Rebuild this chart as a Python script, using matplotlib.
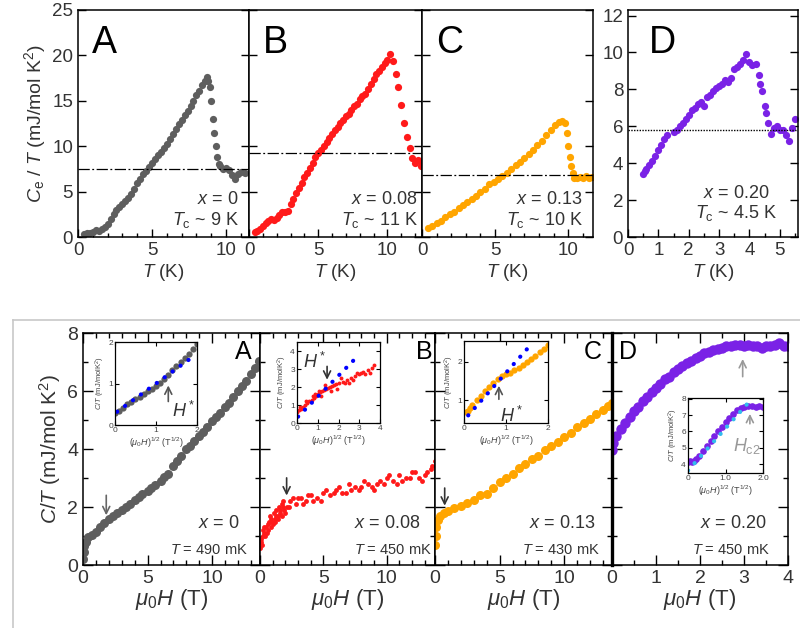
import matplotlib
matplotlib.use("Agg")
import matplotlib.pyplot as plt
from matplotlib.ticker import MultipleLocator, FixedLocator
from matplotlib.lines import Line2D

plt.rcParams['font.family'] = ['Liberation Sans', 'DejaVu Sans']
plt.rcParams['mathtext.fontset'] = 'custom'
plt.rcParams['mathtext.rm'] = 'Liberation Sans'
plt.rcParams['mathtext.it'] = 'Liberation Sans:italic'
plt.rcParams['text.color'] = '#333333'
plt.rcParams['axes.labelcolor'] = '#333333'

GRAY = '#5e5e5e'
RED = '#ff1a1a'
ORANGE = '#ffa500'
PURPLE = '#7a22e6'

# Data: zero-field specific heat, Ce/T vs T ======================================================
topA_T = [0.4, 0.6, 0.8, 1.0, 1.2, 1.4, 1.6, 1.8, 2.0, 2.2, 2.4, 2.6, 2.8, 3.0, 3.2, 3.4, 3.6,
          3.8, 4.0, 4.2, 4.4, 4.6, 4.8, 5.0, 5.2, 5.4, 5.6, 5.8, 6.0, 6.2, 6.4, 6.6, 6.8, 7.0,
          7.2, 7.4, 7.6, 7.8, 8.0, 8.2, 8.4, 8.6, 8.7, 8.8, 8.9, 9.0, 9.1, 9.2, 9.3, 9.4, 9.5,
          9.6, 9.8, 10.0, 10.2, 10.4, 10.6, 10.8, 11.0, 11.3]
topA_C = [0.3, 0.4, 0.4, 0.6, 0.8, 0.7, 0.9, 1.1, 1.4, 2.0, 2.5, 3.0, 3.3, 3.6, 4.0, 4.3, 4.7,
          5.3, 6.0, 6.4, 6.9, 7.3, 7.7, 8.1, 8.6, 9.0, 9.4, 9.8, 10.2, 10.8, 11.3, 11.9, 12.4,
          12.9, 13.4, 13.9, 14.4, 15.0, 15.6, 16.1, 16.7, 17.2, 17.6, 17.2, 16.5, 15.0, 13.0,
          11.5, 10.0, 8.8, 8.0, 7.8, 7.5, 7.6, 7.4, 6.8, 6.4, 6.9, 7.2, 7.0]
topB_T = [0.4, 0.6, 0.8, 1.0, 1.2, 1.4, 1.6, 1.8, 2.0, 2.2, 2.4, 2.6, 2.8, 3.0, 3.2, 3.4, 3.6,
          3.8, 4.0, 4.2, 4.4, 4.6, 4.8, 5.0, 5.2, 5.4, 5.6, 5.8, 6.0, 6.2, 6.4, 6.6, 6.8, 7.0,
          7.2, 7.4, 7.6, 7.8, 8.0, 8.2, 8.4, 8.6, 8.8, 9.0, 9.2, 9.4, 9.6, 9.8, 10.0, 10.2,
          10.4, 10.6, 10.8, 11.0, 11.2, 11.4, 11.6, 11.8, 12.0, 12.2, 12.4, 12.5]
topB_C = [0.5, 0.7, 0.9, 1.2, 1.5, 1.8, 2.0, 1.9, 2.1, 2.4, 2.7, 2.8, 2.9, 3.6, 4.2, 4.8, 5.4,
          6.0, 6.6, 7.0, 7.6, 8.2, 8.8, 9.3, 9.6, 10.0, 10.5, 10.9, 11.3, 11.8, 12.1, 12.5, 12.9,
          13.3, 13.6, 14.0, 14.4, 14.7, 15.2, 15.5, 15.8, 16.3, 16.8, 17.4, 17.9, 18.3, 18.7,
          19.2, 19.5, 20.2, 19.4, 18.0, 16.5, 14.5, 12.5, 11.0, 9.8, 8.7, 8.2, 8.5, 7.8, 8.0]
topC_T = [0.4, 0.7, 1.0, 1.3, 1.6, 1.9, 2.2, 2.5, 2.8, 3.1, 3.4, 3.7, 4.0, 4.3, 4.6, 4.9, 5.2,
          5.5, 5.8, 6.1, 6.4, 6.7, 7.0, 7.3, 7.6, 7.9, 8.2, 8.5, 8.8, 9.1, 9.4, 9.6, 9.8, 9.9,
          10.0, 10.1, 10.2, 10.3, 10.4, 10.6, 10.8, 11.0, 11.2, 11.4, 11.6]
topC_C = [1.0, 1.2, 1.5, 1.8, 2.2, 2.5, 2.8, 3.2, 3.5, 3.8, 4.2, 4.5, 5.0, 5.3, 5.8, 6.1, 6.4,
          6.7, 7.1, 7.5, 7.9, 8.3, 8.7, 9.1, 9.6, 10.1, 10.6, 11.2, 11.8, 12.3, 12.7, 12.8,
          12.6, 11.5, 10.0, 8.8, 7.8, 7.0, 6.5, 6.5, 6.6, 6.5, 6.7, 6.5, 6.6]
topD_T = [0.5, 0.55, 0.6, 0.7, 0.8, 0.9, 1.0, 1.1, 1.2, 1.3, 1.5, 1.6, 1.7, 1.8, 1.9, 2.0, 2.1,
          2.2, 2.3, 2.4, 2.5, 2.6, 2.7, 2.8, 2.9, 3.0, 3.1, 3.2, 3.3, 3.4, 3.5, 3.6, 3.7, 3.8,
          3.9, 4.0, 4.1, 4.2, 4.3, 4.35, 4.4, 4.5, 4.55, 4.6, 4.7, 4.8, 4.9, 5.0, 5.1, 5.2,
          5.3, 5.4, 5.5]
topD_C = [3.4, 3.6, 3.7, 3.9, 4.1, 4.4, 4.7, 5.0, 5.3, 5.5, 5.7, 5.8, 6.0, 6.2, 6.4, 6.6, 6.9,
          7.0, 7.2, 7.3, 7.1, 7.6, 7.7, 7.9, 8.1, 8.2, 8.3, 8.5, 8.4, 8.6, 9.1, 9.2, 9.4, 9.6,
          9.9, 9.5, 9.3, 9.4, 8.8, 8.3, 7.9, 7.1, 6.7, 6.2, 5.6, 5.9, 6.0, 5.8, 5.8, 5.5, 5.2,
          5.9, 6.4]
top_normal = [7.5, 9.3, 6.8, 5.8]   # normal-state Cn/T levels

# Data: field dependence C/T vs mu0H ==============================================================
botA_H = [0.0, 0.05, 0.1, 0.2, 0.4, 0.7, 1.0, 1.3, 1.6, 2.0, 2.3, 2.6, 3.0, 3.3, 3.6, 4.0,
          4.3, 4.6, 5.0, 5.3, 5.6, 6.0, 6.3, 6.6, 7.0, 7.3, 7.6, 8.0, 8.3, 8.6, 9.0, 9.3, 9.6,
          10.0, 10.3, 10.6, 11.0, 11.3, 11.6, 12.0, 12.3, 12.6, 13.0, 13.3, 13.6]
botA_C = [0.2, 0.45, 0.65, 0.8, 0.95, 1.05, 1.15, 1.3, 1.45, 1.6, 1.7, 1.78, 1.9, 2.0, 2.1,
          2.25, 2.35, 2.45, 2.55, 2.65, 2.75, 2.9, 3.02, 3.15, 3.4, 3.58, 3.76, 4.0, 4.12, 4.27,
          4.45, 4.6, 4.75, 4.95, 5.1, 5.25, 5.45, 5.6, 5.78, 6.0, 6.18, 6.36, 6.6, 6.8, 7.05]
botB_H = [0.0, 0.1, 0.2, 0.3, 0.5, 0.7, 0.9, 1.1, 1.3, 1.5, 1.7, 1.9, 2.1, 2.4, 2.8, 3.2, 3.6,
          4.0, 4.5, 5.0, 5.5, 6.0, 6.5, 7.0, 7.5, 8.0, 8.5, 9.0, 9.5, 10.0, 10.5, 11.0, 11.5,
          12.0, 12.5, 13.0, 13.5, 13.8, 0.05, 0.3, 0.6, 0.8, 1.0, 1.2, 1.4, 1.6, 1.8, 2.3, 3.0,
          3.4, 4.2, 5.2, 6.2, 7.2, 8.2, 9.2, 10.2, 11.2, 12.2, 13.2, 0.0, 0.15, 0.25, 0.4,
          0.55, 0.65, 0.85, 0.95, 1.15, 1.25, 1.45, 1.55, 1.75, 1.85, 2.0, 2.6, 3.8, 4.8, 5.8,
          6.8, 7.8, 8.8, 9.8, 10.8, 11.8, 12.8, 13.6]
botB_C = [0.6, 0.9, 1.0, 1.1, 1.3, 1.5, 1.6, 1.8, 1.9, 2.0, 2.1, 1.9, 2.0, 2.2, 2.1, 2.3, 2.2,
          2.4, 2.3, 2.5, 2.4, 2.6, 2.5, 2.8, 2.7, 2.7, 2.8, 2.6, 2.9, 3.0, 2.9, 3.1, 3.0, 3.2,
          3.0, 3.1, 3.3, 3.6, 0.8, 1.3, 1.2, 1.7, 1.4, 1.6, 1.7, 1.8, 2.2, 2.0, 2.3, 2.1, 2.2,
          2.6, 2.7, 2.6, 2.9, 2.8, 3.1, 2.9, 3.2, 3.2, 0.9, 0.7, 1.2, 1.0, 1.1, 1.4, 1.3, 1.5,
          1.5, 1.7, 1.6, 1.9, 1.7, 2.0, 1.8, 2.3, 2.4, 2.2, 2.5, 2.5, 2.6, 2.7, 2.8, 2.8,
          3.0, 2.9, 3.4]
botC_H = [0.0, 0.05, 0.1, 0.2, 0.4, 0.7, 1.0, 1.5, 2.0, 2.5, 3.0, 3.5, 4.0, 4.5, 5.0, 5.5, 6.0,
          6.5, 7.0, 7.5, 8.0, 8.5, 9.0, 9.5, 10.0, 10.5, 11.0, 11.5, 12.0, 12.5, 13.0, 13.4, 13.7]
botC_C = [0.7, 1.0, 1.3, 1.55, 1.7, 1.8, 1.85, 1.95, 2.05, 2.15, 2.25, 2.4, 2.45, 2.65, 2.85,
          3.0, 3.15, 3.35, 3.5, 3.65, 3.75, 3.95, 4.1, 4.25, 4.4, 4.55, 4.75, 4.9, 5.05, 5.2,
          5.35, 5.5, 5.6]
botD_H = [0.0, 0.03, 0.1, 0.2, 0.3, 0.4, 0.5, 0.6, 0.7, 0.8, 0.9, 1.0, 1.1, 1.2, 1.3, 1.4, 1.5,
          1.6, 1.7, 1.8, 1.9, 2.0, 2.1, 2.2, 2.3, 2.4, 2.5, 2.6, 2.7, 2.8, 2.9, 3.0, 3.1, 3.2,
          3.3, 3.4, 3.5, 3.6, 3.7, 3.8, 3.9, 4.0]
botD_C = [3.95, 4.2, 4.45, 4.7, 4.9, 5.1, 5.3, 5.45, 5.65, 5.8, 5.95, 6.1, 6.25, 6.4, 6.5, 6.65,
          6.75, 6.85, 6.95, 7.05, 7.15, 7.2, 7.3, 7.35, 7.4, 7.45, 7.5, 7.55, 7.55, 7.6, 7.6,
          7.55, 7.6, 7.55, 7.55, 7.5, 7.55, 7.55, 7.6, 7.65, 7.55, 7.55]

# Insets: C/T vs (mu0H)^1/2
insA_x = [0.0, 0.1, 0.2, 0.3, 0.4, 0.5, 0.6, 0.7, 0.8, 0.9, 1.0, 1.1, 1.2, 1.3, 1.4, 1.5, 1.6,
          1.7, 1.8, 1.9, 2.0]
insA_y = [0.3, 0.35, 0.42, 0.5, 0.55, 0.62, 0.68, 0.75, 0.82, 0.88, 0.95, 1.02, 1.1, 1.2, 1.32,
          1.42, 1.52, 1.62, 1.72, 1.83, 1.95]
insA_fit = ([0.05, 1.95], [0.32, 1.68])
insB_x = [0.0, 0.1, 0.2, 0.3, 0.4, 0.5, 0.6, 0.7, 0.8, 0.9, 1.0, 1.1, 1.2, 1.3, 1.4, 1.5, 1.6,
          1.7, 1.8, 1.9, 2.0, 2.2, 2.4, 2.6, 2.8, 3.0, 3.2, 3.4, 3.6, 3.7, 0.15, 0.45, 0.75,
          1.05, 1.35, 1.65, 1.95, 2.3, 2.7, 3.1, 3.5, 2.1, 2.5, 2.9, 3.3, 1.15, 0.85]
insB_y = [0.6, 0.7, 0.8, 0.9, 1.0, 1.1, 1.2, 1.3, 1.4, 1.5, 1.6, 1.7, 1.8, 1.85, 1.9, 1.95, 2.0,
          2.05, 2.1, 2.15, 2.2, 2.3, 2.4, 2.5, 2.6, 2.7, 2.85, 2.95, 3.05, 3.2, 0.9, 1.2, 1.5,
          1.8, 2.1, 1.8, 1.9, 2.2, 2.4, 2.8, 2.8, 2.5, 2.2, 2.8, 2.7, 1.5, 1.6]
insB_fit = ([0.05, 3.0], [0.35, 3.8])
insC_x = [0.05, 0.1, 0.15, 0.2, 0.3, 0.4, 0.5, 0.6, 0.7, 0.8, 0.9, 1.0, 1.1, 1.2, 1.3, 1.4, 1.5,
          1.6, 1.7, 1.8, 1.9, 2.0]
insC_y = [0.7, 0.72, 0.8, 0.88, 1.0, 1.12, 1.25, 1.35, 1.45, 1.55, 1.62, 1.68, 1.72, 1.78, 1.85,
          1.92, 2.0, 2.08, 2.15, 2.25, 2.35, 2.45]
insC_fit = ([0.1, 1.55], [0.6, 2.4])
insD_x = [0.0, 0.05, 0.1, 0.15, 0.2, 0.3, 0.4, 0.5, 0.6, 0.7, 0.8, 0.9, 1.0, 1.1, 1.2, 1.3, 1.4,
          1.5, 1.6, 1.7, 1.8, 1.9, 2.0]
insD_y = [4.1, 4.2, 4.15, 4.2, 4.3, 4.5, 4.8, 5.1, 5.4, 5.7, 6.0, 6.3, 6.6, 6.85, 7.1, 7.3,
          7.45, 7.5, 7.55, 7.55, 7.5, 7.55, 7.5]
insD_fit = ([0.0, 1.7], [3.6, 8.0])


def style(ax, xmaj, xmin, ymaj, ymin, size, top=True, majlen=6):
    ax.xaxis.set_major_locator(MultipleLocator(xmaj))
    ax.xaxis.set_minor_locator(MultipleLocator(xmin))
    ax.yaxis.set_major_locator(MultipleLocator(ymaj))
    if ymin:
        ax.yaxis.set_minor_locator(MultipleLocator(ymin))
    ax.tick_params(which='both', direction='in', top=top, right=True,
                   labelsize=size, labelcolor='#333333', width=1.0)
    ax.tick_params(which='major', length=majlen)
    ax.tick_params(which='minor', length=majlen / 2)
    for s in ax.spines.values():
        s.set_linewidth(1.1)


def inset_style(ax, xmaj, ymaj):
    ax.xaxis.set_major_locator(MultipleLocator(xmaj))
    ax.yaxis.set_major_locator(MultipleLocator(ymaj))
    ax.tick_params(which='both', direction='in', top=True, right=True,
                   labelsize=6, labelcolor='#444444', length=3, pad=1.5, width=0.8)
    ax.set_xlabel(r'$(\mu_0H)^{1/2}$ (T$^{1/2}$)', fontsize=6.5, labelpad=1, color='#444444')
    ax.set_ylabel(r'$C/T$ (mJ/molK$^2$)', fontsize=5.5, labelpad=1, color='#444444')
    for s in ax.spines.values():
        s.set_linewidth(0.9)


def dotted_fit(ax, fit, color):
    ax.plot(fit[0], fit[1], color=color, lw=3, ls=(0, (0.05, 2.3)),
            dash_capstyle='round')


def arrow(color):
    return dict(arrowstyle='->,head_length=0.5,head_width=0.25', color=color, lw=1.2)


fig = plt.figure(figsize=(8.0, 6.28), dpi=100)

# Top row ========================================================================================
tb, th = 0.6226, 0.3615
axA = fig.add_axes([0.0975, tb, 0.21375, th])
axB = fig.add_axes([0.31125, tb, 0.21625, th])
axC = fig.add_axes([0.5275, tb, 0.21375, th])
axD = fig.add_axes([0.785, tb, 0.2125, th])

top_sets = [(axA, topA_T, topA_C, GRAY, 11.55, 'A', '0', '9'),
            (axB, topB_T, topB_C, RED, 12.5, 'B', '0.08', '11'),
            (axC, topC_T, topC_C, ORANGE, 11.7, 'C', '0.13', '10')]
text_x = [0.94, 0.975, 0.94]
for i, (ax, t, c, col, xmax, letter, xs, tc) in enumerate(top_sets):
    ax.plot(t, c, 'o', color=col, ms=5.2, mec='none')
    ax.axhline(top_normal[i], color='black', lw=0.9, dashes=(9, 2, 1.5, 2))
    ax.set_xlim(0, xmax)
    ax.set_ylim(0, 25)
    style(ax, 5, 1, 5, None, 13.5, top=False)
    if i > 0:
        ax.set_yticklabels([])
    ax.set_xlabel('$T$ (K)', fontsize=13.5, labelpad=2)
    ax.text(0.08, 0.855, letter, transform=ax.transAxes, fontsize=27, color='black',
            ha='left', va='center')
    ax.text(text_x[i], 0.167, '$x$ = ' + xs, transform=ax.transAxes, fontsize=13,
            ha='right', va='center')
    ax.text(text_x[i], 0.075, r'$T_\mathrm{c}$ ~ ' + tc + ' K', transform=ax.transAxes,
            fontsize=13, ha='right', va='center')
axA.set_ylabel(r'$C_\mathrm{e}$ / $T$ (mJ/mol K$^2$)', fontsize=14, labelpad=3)

axD.plot(topD_T, topD_C, 'o', color=PURPLE, ms=5.2, mec='none')
axD.axhline(top_normal[3], color='black', lw=1.0, ls=(0, (1, 1)))
axD.set_xlim(0, 5.6)
axD.set_ylim(0, 12.3)
style(axD, 1, 0.5, 2, None, 13.5, top=False)
axD.set_xlabel('$T$ (K)', fontsize=13.5, labelpad=2)
axD.text(0.12, 0.855, 'D', transform=axD.transAxes, fontsize=27, color='black',
         ha='left', va='center')
axD.text(0.835, 0.193, '$x$ = 0.20', transform=axD.transAxes, fontsize=13,
         ha='right', va='center')
axD.text(0.88, 0.105, r'$T_\mathrm{c}$ ~ 4.5 K', transform=axD.transAxes, fontsize=13,
         ha='right', va='center')

# Separator frame ================================================================================
fig.add_artist(Line2D([13 / 800, 1.0], [1 - 320 / 628] * 2, color='#c8c8c8', lw=1.2))
fig.add_artist(Line2D([13 / 800] * 2, [0, 1 - 320 / 628], color='#c8c8c8', lw=1.2))

# Bottom row =====================================================================================
bb, bh = 0.1003, 0.3694
bA = fig.add_axes([0.10375, bb, 0.22125, bh])
bB = fig.add_axes([0.325, bb, 0.21875, bh])
bC = fig.add_axes([0.54375, bb, 0.22125, bh])
bD = fig.add_axes([0.765, bb, 0.22, bh])

bA.plot(botA_H, botA_C, 'o', color=GRAY, ms=6.5, mec='none')
bB.plot(botB_H, botB_C, 'o', color=RED, ms=3.5, mec='none')
bC.plot(botC_H, botC_C, 'o', color=ORANGE, ms=6.5, mec='none')
bD.plot(botD_H, botD_C, 'o', color=PURPLE, ms=7.5, mec='none')

bot_sets = [(bA, 13.7, 'A', 0.955, 'right', '0', '490', 0.887, 0.932),
            (bB, 13.8, 'B', 0.985, 'right', '0.08', '450', 0.914, 0.98),
            (bC, 13.7, 'C', 0.94, 'right', '0.13', '430', 0.904, 0.932),
            (bD, 4.0, 'D', 0.04, 'left', '0.20', '450', 0.88, 0.898)]
for i, (ax, xmax, letter, lx, lha, xs, tmk, x1, x2) in enumerate(bot_sets):
    ax.set_xlim(0, xmax)
    ax.set_ylim(0, 8)
    if i < 3:
        style(ax, 5, 1, 2, 1, 14, majlen=7)
    else:
        style(ax, 1, 0.5, 2, 1, 14, majlen=7)
    if i > 0:
        ax.set_yticklabels([])
    ax.set_xlabel(r'$\mu_0H$ (T)', fontsize=16, labelpad=0)
    ax.text(lx, 0.918, letter, transform=ax.transAxes, fontsize=18, color='black',
            ha=lha, va='center')
    ax.text(x1, 0.181, '$x$ = ' + xs, transform=ax.transAxes, fontsize=13,
            ha='right', va='center')
    ax.text(x2, 0.065, '$T$ = ' + tmk + ' mK', transform=ax.transAxes, fontsize=10.5,
            ha='right', va='center')
bD.spines['left'].set_linewidth(2.4)
bA.set_ylabel(r'$C/T$ (mJ/mol K$^2$)', fontsize=15, labelpad=3)

bA.annotate('', xy=(1.8, 1.62), xytext=(1.8, 2.5), arrowprops=arrow('#666666'))
bB.annotate('', xy=(2.1, 2.3), xytext=(2.1, 3.1), arrowprops=arrow('#333333'))
bC.annotate('', xy=(0.75, 1.95), xytext=(0.75, 2.75), arrowprops=arrow('#333333'))
bD.annotate('', xy=(2.97, 7.2), xytext=(2.97, 6.4), arrowprops=arrow('#999999'))

# Insets =========================================================================================
iA = fig.add_axes([0.14375, 0.3232, 0.1025, 0.1322])
iA.plot(insA_x, insA_y, 'o', color=GRAY, ms=4.5, mec='none')
dotted_fit(iA, insA_fit, 'blue')
iA.set_xlim(0, 2)
iA.set_ylim(0, 2)
inset_style(iA, 1, 1)
iA.annotate('', xy=(1.3, 1.02), xytext=(1.3, 0.5), arrowprops=arrow('#555555'))
iA.text(1.4, 0.35, '$H^*$', fontsize=13, color='#333333', ha='left', va='center')

iB = fig.add_axes([0.37125, 0.3264, 0.10375, 0.129])
iB.plot(insB_x, insB_y, 'o', color=RED, ms=2.8, mec='none')
dotted_fit(iB, insB_fit, 'blue')
iB.set_xlim(0, 4)
iB.set_ylim(0, 4.5)
inset_style(iB, 1, 1)
iB.annotate('', xy=(1.45, 2.25), xytext=(1.45, 3.3), arrowprops=arrow('#333333'))
iB.text(0.3, 3.4, '$H^*$', fontsize=13, color='#333333', ha='left', va='center')

iC = fig.add_axes([0.58, 0.3264, 0.105, 0.1306])
iC.plot(insC_x, insC_y, 'o', color=ORANGE, ms=4.5, mec='none')
dotted_fit(iC, insC_fit, 'blue')
iC.set_xlim(0, 2)
iC.set_ylim(0.4, 2.55)
inset_style(iC, 1, 1)
iC.annotate('', xy=(0.83, 1.45), xytext=(0.83, 0.95), arrowprops=arrow('#555555'))
iC.text(0.85, 0.58, '$H^*$', fontsize=13, color='#333333', ha='left', va='center')

iD = fig.add_axes([0.86, 0.2468, 0.09375, 0.1194])
iD.plot(insD_x, insD_y, 'o', color=PURPLE, ms=4.8, mec='none')
dotted_fit(iD, insD_fit, '#33bbee')
iD.set_xlim(0, 2.0)
iD.set_ylim(3.45, 8.05)
inset_style(iD, 1.0, 1)
iD.xaxis.set_major_locator(FixedLocator([0, 1.0, 2.0]))
iD.set_xticklabels(['0', '1.0', '2.0'])
iD.annotate('', xy=(1.65, 7.25), xytext=(1.65, 6.3), arrowprops=arrow('#999999'))
iD.text(1.2, 5.1, r'$H_\mathrm{c2}$', fontsize=13, color='#999999', ha='left', va='center')

fig.savefig('out.png', dpi=100)
